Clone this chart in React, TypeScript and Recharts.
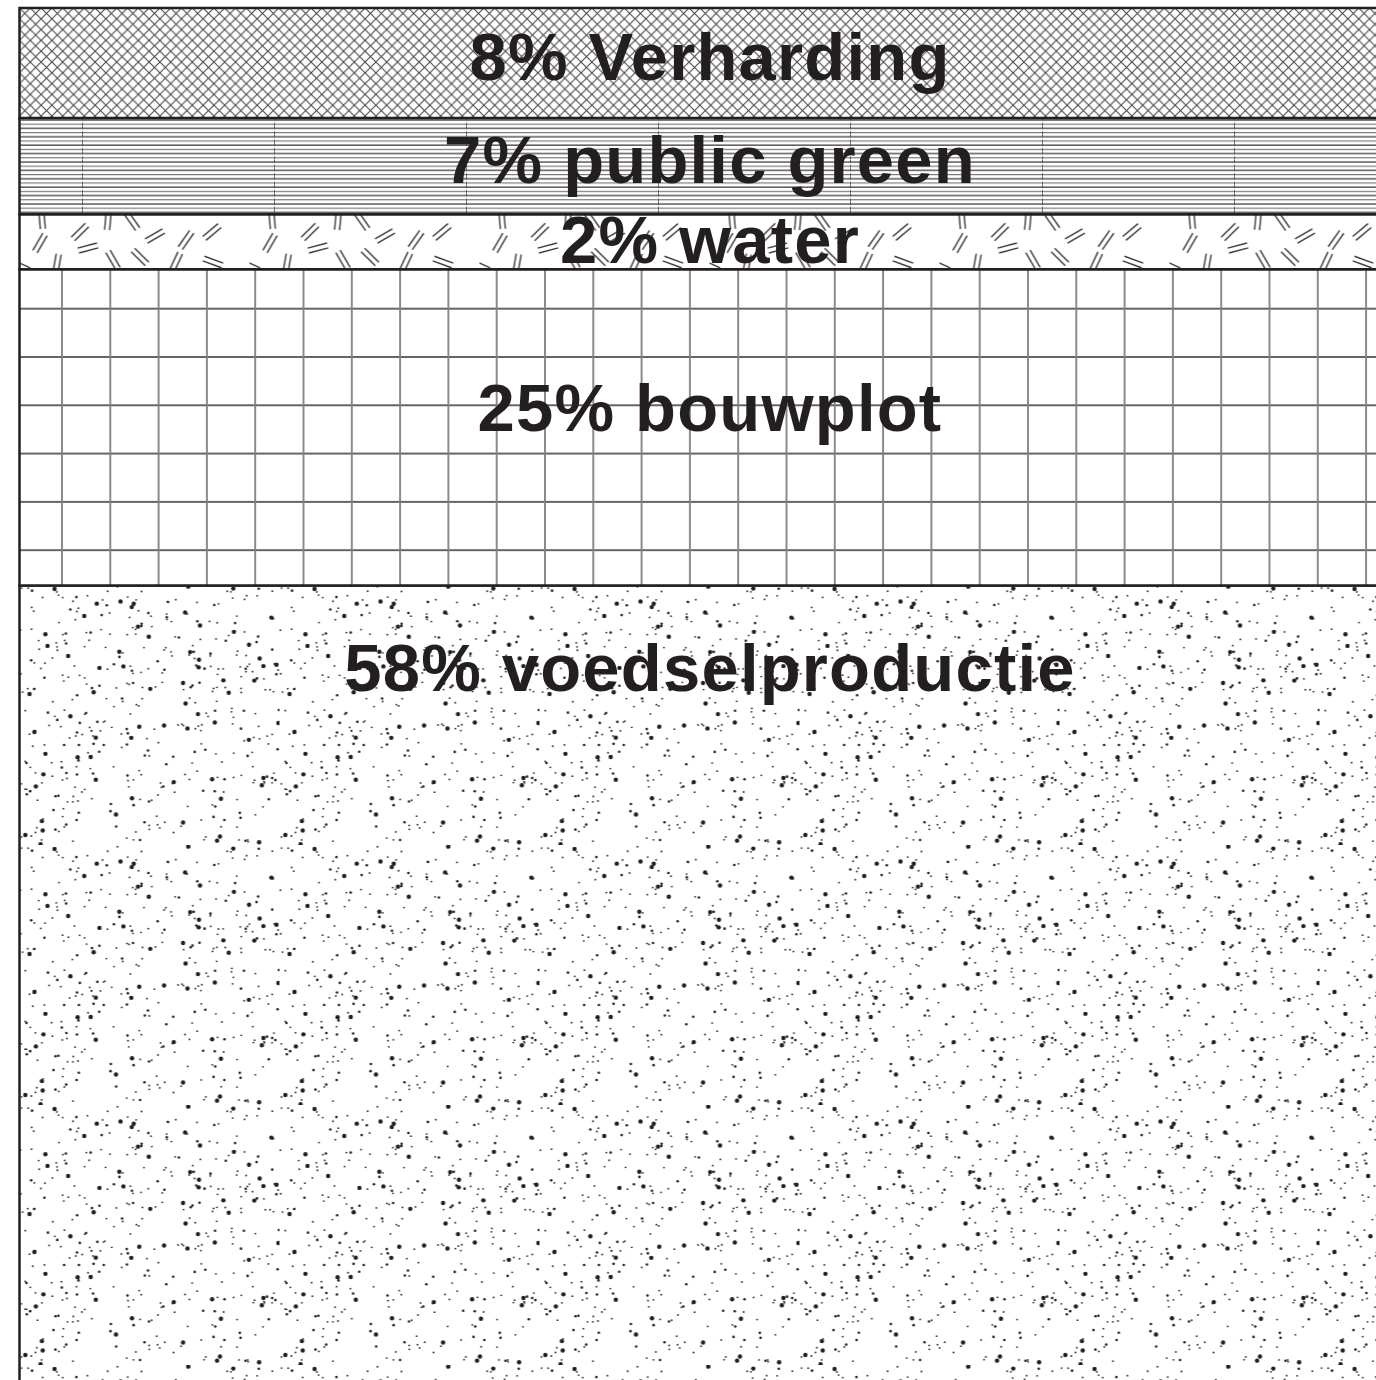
import { BarChart, Bar, XAxis, YAxis, LabelList } from 'recharts';

// land-use split of one plan, stacked bottom to top
const bands = ['voedselproductie', 'bouwplot', 'water', 'public green', 'Verharding'];
const drawnShare = [58, 23, 4, 7, 8]; // height of each band as drawn (% of column)
const statedPct = [58, 25, 2, 7, 8]; // percentage printed in the label

const data = [
  bands.reduce((row: any, b, i) => ({ ...row, [b]: drawnShare[i] }), { name: 'plan' }),
];

const fills = ['url(#dots)', 'url(#grid)', 'url(#water)', 'url(#lines)', 'url(#cross)'];
const labelDy = [105, 162, 49, 65, 72]; // baseline below band top
const ink = '#231f20';

// little pairs of dashes for the water texture: cx, cy, angle
const waterMarks = [
  [42, 219, 85], [108, 220, 95], [132, 221, 55], [40, 243, -60], [80, 232, -45],
  [88, 248, -15], [155, 236, -30], [186, 240, -55], [20, 266, 25], [57, 264, -80],
  [113, 260, 60], [140, 257, 45], [176, 262, -65], [213, 262, 20], [212, 232, -40],
];

// stipple texture for the food production band
function dotField(size: number) {
  let a = 987654321;
  const rnd = () => {
    a |= 0;
    a = (a + 0x6d2b79f5) | 0;
    let t = Math.imul(a ^ (a >>> 15), 1 | a);
    t = (t + Math.imul(t ^ (t >>> 7), 61 | t)) ^ t;
    return ((t ^ (t >>> 14)) >>> 0) / 4294967296;
  };
  const out = [];
  for (let i = 0; i < 460; i++) {
    const p = rnd();
    const r = p < 0.62 ? 0.9 : p < 0.86 ? 1.3 : 2.2;
    out.push(<circle key={i} cx={rnd() * size} cy={rnd() * size} r={r} fill={ink} />);
  }
  return out;
}

function Patterns() {
  return (
    <defs>
      <pattern id="cross" patternUnits="userSpaceOnUse" x={19.5} y={8} width={10.8} height={10.8}>
        <rect width={10.8} height={10.8} fill="#fff" />
        <path d="M-1,-1 L11.8,11.8 M11.8,-1 L-1,11.8" stroke="#484848" strokeWidth={1.1} />
      </pattern>
      <pattern id="lines" patternUnits="userSpaceOnUse" x={82} y={118} width={192} height={8.4}>
        <rect width={192} height={8.4} fill="#fff" />
        <line x1={0} x2={192} y1={2} y2={2} stroke="#2a2a2a" strokeWidth={1} />
        <line x1={0} x2={192} y1={6.2} y2={6.2} stroke="#777" strokeWidth={1.3} />
        <line x1={0.5} x2={0.5} y1={0} y2={8.4} stroke="#555" strokeWidth={1} strokeDasharray="3 2" />
      </pattern>
      <pattern id="water" patternUnits="userSpaceOnUse" x={19.5} y={214} width={230} height={55}>
        <rect width={230} height={55} fill="#fff" />
        {waterMarks.map(([cx, cy, a], i) => (
          <g key={i} transform={`translate(${cx - 19.5},${cy - 214}) rotate(${a})`}>
            <line x1={-10} x2={10} y1={-2.5} y2={-2.5} stroke="#3a3a3a" strokeWidth={1.4} />
            <line x1={-10} x2={10} y1={2.5} y2={2.5} stroke="#3a3a3a" strokeWidth={1.4} />
          </g>
        ))}
      </pattern>
      <pattern id="grid" patternUnits="userSpaceOnUse" x={12.7} y={17.9} width={48.3} height={48.3}>
        <rect width={48.3} height={48.3} fill="#fff" />
        <line x1={0} x2={48.3} y1={1} y2={1} stroke="#2e2e2e" strokeWidth={1.5} />
        <line x1={1} x2={1} y1={0} y2={48.3} stroke="#808080" strokeWidth={1.8} />
      </pattern>
      <pattern id="dots" patternUnits="userSpaceOnUse" x={19.5} y={585} width={260} height={260}>
        <rect width={260} height={260} fill="#fff" />
        {dotField(260)}
      </pattern>
    </defs>
  );
}

const bandLabel = (i: number) => (props: any) => {
  const vb = props.viewBox ?? props;
  const x = Number(vb.x) + Number(vb.width) / 2;
  const y = Number(vb.y) + labelDy[i];
  return (
    <text
      x={x}
      y={y}
      textAnchor="middle"
      fill={ink}
      fontFamily="'Liberation Sans', Arial, sans-serif"
      fontWeight="bold"
      fontSize={67}
      letterSpacing={1.2}
    >
      {`${statedPct[i]}% ${bands[i]}`}
    </text>
  );
};

export default function App() {
  return (
    <div style={{ width: 1376, height: 1380, overflow: 'hidden', background: '#fff' }}>
      <style>{'body{margin:0}'}</style>
      <BarChart
        width={1400}
        height={1390}
        data={data}
        margin={{ top: 8, right: 0, bottom: 7, left: 19.5 }}
        barCategoryGap={0}
      >
        <Patterns />
        <XAxis dataKey="name" hide />
        <YAxis type="number" domain={[0, 100]} hide />
        {bands.map((b, i) => (
          <Bar
            key={b}
            dataKey={b}
            stackId="a"
            fill={fills[i]}
            stroke={ink}
            strokeWidth={2.5}
            isAnimationActive={false}
          >
            <LabelList content={bandLabel(i)} />
          </Bar>
        ))}
      </BarChart>
    </div>
  );
}
